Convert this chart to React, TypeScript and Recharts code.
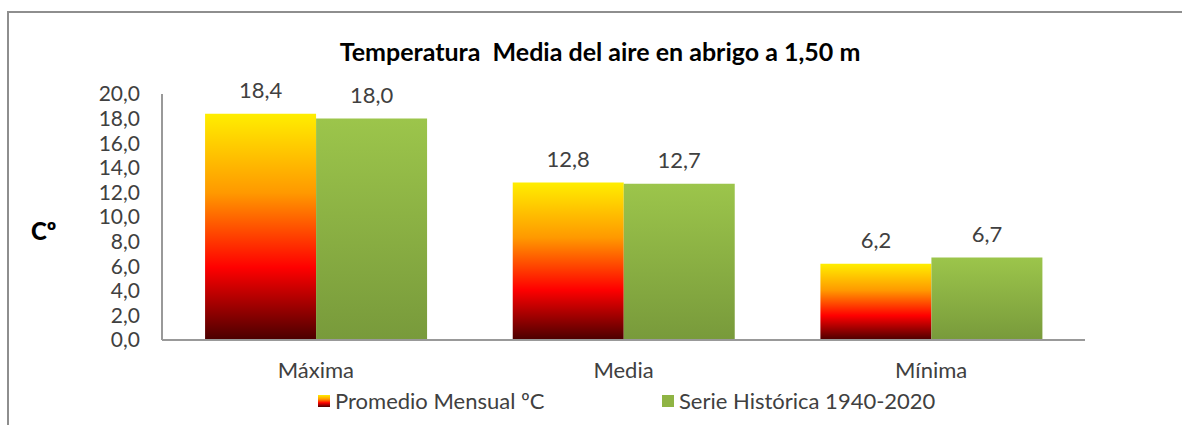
import React from "react";
import { BarChart, Bar, XAxis, YAxis, LabelList, Legend } from "recharts";

const categories = ["Máxima", "Media", "Mínima"];
const promedioMensual = [18.4, 12.8, 6.2];
const serieHistorica = [18.0, 12.7, 6.7];
const yTicks = [0, 2, 4, 6, 8, 10, 12, 14, 16, 18, 20];
const seriesNames = ["Promedio Mensual ºC", "Serie Histórica 1940-2020"];

const data = categories.map((name, i) => ({
  name,
  promedio: promedioMensual[i],
  historica: serieHistorica[i],
}));

const FONT = "Lato, 'Open Sans', sans-serif";
const TXT = "#404040";
const fmt = (v: number) => Number(v).toFixed(1).replace(".", ",");

function LegendContent() {
  return (
    <div style={{ position: "relative", width: 1182, height: 30, fontFamily: FONT, fontSize: 22, color: TXT, lineHeight: "30px" }}>
      <div style={{ position: "absolute", left: 318, top: 0, display: "flex", alignItems: "center" }}>
        <svg width={12} height={12} style={{ marginRight: 5 }}>
          <defs>
            <linearGradient id="legGrad" x1="0" y1="0" x2="0" y2="1">
              <stop offset="0" stopColor="#ffee00" />
              <stop offset="0.35" stopColor="#ff9900" />
              <stop offset="0.65" stopColor="#ff0000" />
              <stop offset="1" stopColor="#4d0000" />
            </linearGradient>
          </defs>
          <rect width={12} height={12} fill="url(#legGrad)" />
        </svg>
        <span>{seriesNames[0]}</span>
      </div>
      <div style={{ position: "absolute", left: 662, top: 0, display: "flex", alignItems: "center" }}>
        <svg width={12} height={12} style={{ marginRight: 5 }}>
          <rect width={12} height={12} fill="#8fb444" />
        </svg>
        <span>{seriesNames[1]}</span>
      </div>
    </div>
  );
}

export default function App() {
  return (
    <div style={{ position: "absolute", left: 0, top: 0, width: 1182, height: 425, overflow: "hidden", background: "#fff" }}>
      <div
        style={{
          position: "absolute",
          left: 7,
          top: 11,
          width: 1300,
          height: 500,
          borderLeft: "2px solid #8e8e8e",
          borderTop: "2px solid #8e8e8e",
        }}
      />
      <div
        style={{
          position: "absolute",
          left: 0,
          top: 36,
          width: 1200,
          textAlign: "center",
          whiteSpace: "pre",
          fontFamily: FONT,
          fontWeight: 700,
          fontSize: 25,
          lineHeight: "30px",
          color: "#000",
        }}
      >
        {"Temperatura  Media del aire en abrigo a 1,50 m"}
      </div>
      <div
        style={{
          position: "absolute",
          left: 31,
          top: 216,
          fontFamily: FONT,
          fontWeight: 900,
          fontSize: 24,
          lineHeight: "30px",
          color: "#000",
        }}
      >
        Cº
      </div>
      <div style={{ position: "absolute", left: 0, top: 0 }}>
        <BarChart
          width={1182}
          height={425}
          data={data}
          margin={{ top: 94, right: 97, bottom: 55, left: 0 }}
          barCategoryGap="14%"
          barGap={0}
        >
          <defs>
            <linearGradient id="promGrad" x1="0" y1="0" x2="0" y2="1">
              <stop offset="0" stopColor="#ffee00" />
              <stop offset="0.35" stopColor="#ff9900" />
              <stop offset="0.68" stopColor="#ff0000" />
              <stop offset="1" stopColor="#4a0000" />
            </linearGradient>
            <linearGradient id="histGrad" x1="0" y1="0" x2="0" y2="1">
              <stop offset="0" stopColor="#9cc54b" />
              <stop offset="1" stopColor="#789a3b" />
            </linearGradient>
          </defs>
          <XAxis
            dataKey="name"
            height={30}
            axisLine={{ stroke: "#999", strokeWidth: 2 }}
            tickLine={false}
            tickSize={0}
            tickMargin={22}
            tick={{ fontFamily: FONT, fontSize: 22, fill: TXT }}
          />
          <YAxis
            width={162}
            domain={[0, 20]}
            ticks={yTicks}
            interval={0}
            tickFormatter={fmt}
            axisLine={{ stroke: "#999", strokeWidth: 2 }}
            tickLine={false}
            tickSize={0}
            tickMargin={22}
            tick={{ fontFamily: FONT, fontSize: 21, fill: TXT }}
          />
          <Legend
            layout="horizontal"
            verticalAlign="middle"
            align="center"
            wrapperStyle={{ top: 386, left: 0, width: 1182 }}
            content={() => <LegendContent />}
          />
          <Bar dataKey="promedio" name={seriesNames[0]} fill="url(#promGrad)" isAnimationActive={false}>
            <LabelList
              dataKey="promedio"
              position="top"
              offset={16}
              formatter={(v: any) => fmt(v)}
              style={{ fontFamily: FONT, fontSize: 22, fill: TXT }}
            />
          </Bar>
          <Bar dataKey="historica" name={seriesNames[1]} fill="url(#histGrad)" isAnimationActive={false}>
            <LabelList
              dataKey="historica"
              position="top"
              offset={16}
              formatter={(v: any) => fmt(v)}
              style={{ fontFamily: FONT, fontSize: 22, fill: TXT }}
            />
          </Bar>
        </BarChart>
      </div>
    </div>
  );
}
